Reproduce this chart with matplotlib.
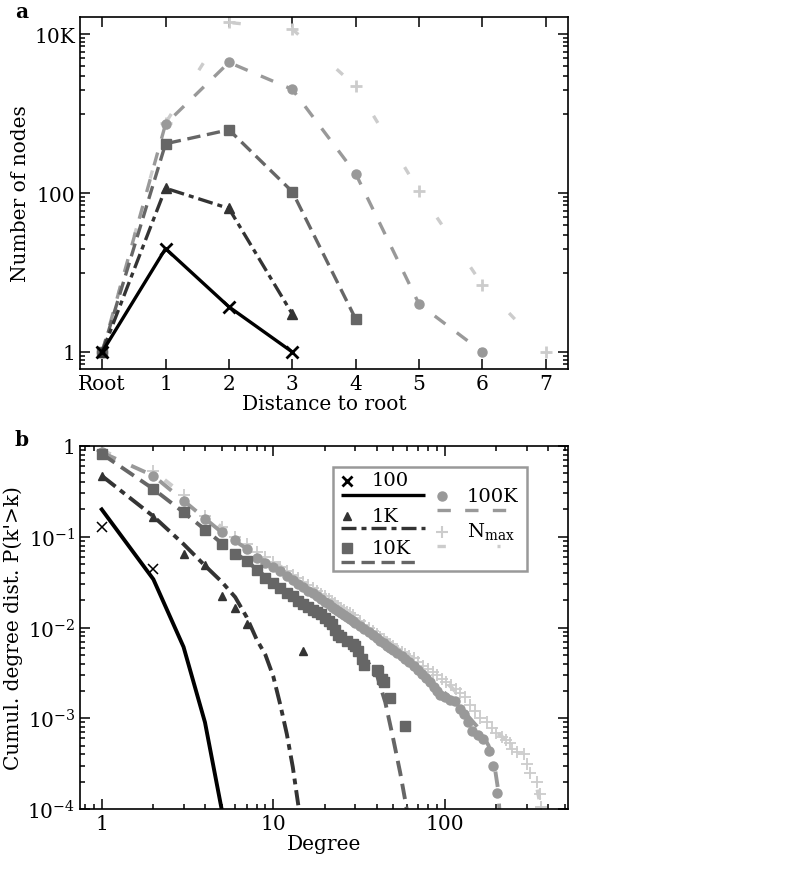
import numpy as np
import matplotlib
matplotlib.use("Agg")
import matplotlib.pyplot as plt
from matplotlib.ticker import FixedLocator, LogLocator, NullFormatter
from matplotlib.patches import Rectangle

plt.rcParams['font.family'] = ['DejaVu Serif']
plt.rcParams['mathtext.fontset'] = 'dejavuserif'

# ---------------- Panel a data ----------------
dist_labels = ["Root", "1", "2", "3", "4", "5", "6", "7"]
a_100 = [1, 20, 3.7, 1]
a_1k = [1, 115, 64, 3.0]
a_10k = [1, 417, 625, 104, 2.6]
a_100k = [1, 738, 4400, 2015, 175, 4.0, 1]
a_nmax = [1, 760, 14000, 11560, 2200, 106, 7.0, 1]

# ---------------- Panel b data ----------------
b_100_k = [1, 2]
b_100_p = [0.127, 0.044]
b_100_fit_k = [1, 2, 3, 4, 5]
b_100_fit_p = [0.2, 0.034, 0.0061, 0.0009, 0.0001]

b_1k_k = [1, 2, 3, 4, 5, 6, 7, 15]
b_1k_p = [0.47, 0.165, 0.064, 0.049, 0.022, 0.0166, 0.011, 0.0055]
b_1k_fit_k = [1, 2, 3, 4, 5, 6, 7, 8, 9, 10, 11, 12, 13, 14]
b_1k_fit_p = [0.47, 0.168, 0.083, 0.048, 0.032, 0.0216, 0.013, 0.0074, 0.005,
              0.0029, 0.0014, 0.00067, 0.00029, 0.00011]

b_10k_k = [1, 2, 3, 4, 5, 6, 7, 8, 9, 10, 11, 12, 13, 14, 15, 16, 17, 18, 19, 20,
           21, 22, 23, 24, 25, 27, 29, 30, 31, 33, 34, 40, 41, 43, 44, 48, 59]
b_10k_p = [0.82, 0.336, 0.186, 0.12, 0.083, 0.064, 0.054, 0.043, 0.035, 0.031,
           0.027, 0.024, 0.022, 0.0197, 0.018, 0.0167, 0.0157, 0.0148, 0.014, 0.0128,
           0.0118, 0.0109, 0.0095, 0.0083, 0.0078, 0.0071, 0.0066, 0.0063, 0.0055,
           0.0045, 0.0039, 0.0034, 0.0033, 0.0027, 0.0025, 0.00167, 0.00083]
b_10k_fit_k = [1, 2, 3, 4, 5, 7, 10, 15, 20, 25, 30, 35, 40, 45, 50, 55, 59, 60]
b_10k_fit_p = [0.82, 0.336, 0.186, 0.12, 0.085, 0.054, 0.031, 0.018, 0.0128, 0.0085,
               0.0063, 0.0043, 0.0031, 0.0015, 0.0006, 0.00025, 0.00012, 0.0001]

b_100k_k = [1, 2, 3, 4, 5, 6, 7, 8, 9, 10, 11, 12, 13, 14, 15, 16, 17, 18, 19, 20,
            21, 22, 23, 24, 25, 26, 27, 28, 29, 30, 32, 34, 36, 38, 40, 42, 44, 46,
            48, 50, 53, 56, 59, 62, 66, 70, 74, 78, 82, 86, 90, 94, 100, 108, 115,
            123, 130, 137, 144, 156, 168, 180, 192, 202]
b_100k_p = [0.85, 0.47, 0.25, 0.157, 0.112, 0.091, 0.074, 0.059, 0.052, 0.046,
            0.0415, 0.037, 0.0335, 0.0305, 0.028, 0.0255, 0.0238, 0.022, 0.0205, 0.0192,
            0.018, 0.017, 0.016, 0.0151, 0.0143, 0.0136, 0.013, 0.0123, 0.0118, 0.0113,
            0.0104, 0.0096, 0.0089, 0.0082, 0.0077, 0.0071, 0.0067, 0.0063, 0.006,
            0.0057, 0.0053, 0.0049, 0.0045, 0.0042, 0.0038, 0.0034, 0.0031, 0.0028,
            0.0025, 0.0022, 0.002, 0.0018, 0.0017, 0.0016, 0.00155, 0.00126, 0.0011,
            0.0009, 0.00073, 0.00065, 0.00059, 0.00044, 0.0003, 0.00015]
b_100k_fit_k = [1, 2, 3, 5, 7, 10, 15, 20, 30, 40, 60, 80, 100, 120, 140, 160, 180,
                195, 205, 208]
b_100k_fit_p = [0.85, 0.47, 0.25, 0.112, 0.074, 0.046, 0.028, 0.0192, 0.0113, 0.0077,
                0.0043, 0.0027, 0.0019, 0.0014, 0.001, 0.00075, 0.0005, 0.0003,
                0.00016, 0.0001]

b_nmax_k = [1, 2, 3, 4, 5, 6, 7, 8, 9, 10, 11, 12, 13, 14, 15, 16, 17, 18, 19, 20,
            21, 22, 23, 24, 25, 26, 27, 28, 29, 30, 32, 34, 36, 38, 40, 42, 44, 46,
            48, 50, 53, 56, 59, 62, 66, 70, 75, 80, 85, 90, 96, 102, 109, 116, 123,
            131, 140, 150, 160, 176, 188, 200, 215, 228, 240, 245, 265, 288, 300,
            312, 346, 360, 364]
b_nmax_p = [0.89, 0.53, 0.29, 0.17, 0.127, 0.10, 0.083, 0.068, 0.060, 0.053,
            0.047, 0.042, 0.038, 0.035, 0.032, 0.0295, 0.0272, 0.0253, 0.0236, 0.022,
            0.0207, 0.0195, 0.0184, 0.0174, 0.0165, 0.0157, 0.015, 0.0143, 0.0137,
            0.0128, 0.0117, 0.0107, 0.0099, 0.0091, 0.0085, 0.0079, 0.0074, 0.0069,
            0.0065, 0.0062, 0.0058, 0.0054, 0.0051, 0.0048, 0.0046, 0.0042, 0.0038,
            0.0035, 0.0032, 0.003, 0.0027, 0.0025, 0.0023, 0.0021, 0.0019, 0.0017,
            0.0014, 0.0012, 0.001, 0.0009, 0.00078, 0.00069, 0.00062, 0.00058,
            0.00054, 0.00046, 0.00042, 0.0004, 0.00031, 0.00025, 0.0002, 0.000145,
            0.000105]
b_nmax_fit_k = [1, 2, 3, 5, 7, 10, 15, 20, 30, 40, 60, 80, 100, 150, 200, 250, 300,
                340, 365]
b_nmax_fit_p = [0.89, 0.53, 0.29, 0.127, 0.083, 0.053, 0.032, 0.022, 0.0128, 0.0085,
                0.005, 0.0035, 0.0026, 0.0012, 0.0007, 0.0005, 0.0003, 0.0002, 0.0001]

legend_labels = ["100", "1K", "10K", "100K", "N$_{\\mathrm{max}}$"]

# ---------------- Styles ----------------
C100, C1K, C10K, C100K, CNMAX = "#000000", "#333333", "#666666", "#999999", "#cccccc"
DASH_1K = (4.5, 1.5, 1.5, 1.5)
DASH_10K = (4, 2)
DASH_100K = (4, 4.3)
DASH_NMAX = (2.5, 15.5)
FS = 14.5

fig = plt.figure(figsize=(7.97, 8.87), dpi=100)
W, H = 797, 887

def ax_rect(l, r, t, b):
    return [l / W, (H - b) / H, (r - l) / W, (b - t) / H]

axa = fig.add_axes(ax_rect(80, 568, 18, 370))
axb = fig.add_axes(ax_rect(80, 568, 447, 810))

for ax in (axa, axb):
    for sp in ax.spines.values():
        sp.set_linewidth(1.2)
    ax.tick_params(which='both', direction='in', top=True, right=True,
                   labelsize=FS, width=1.1)
    ax.tick_params(which='major', length=7)
    ax.tick_params(which='minor', length=3.5)

# ---------------- Panel a ----------------
LWA = 2.4
x = np.arange(len(dist_labels))
ln, = axa.plot(x[:len(a_nmax)], a_nmax, color=CNMAX, lw=LWA, marker='+', ms=9, mew=2)
ln.set_dashes(DASH_NMAX)
ln, = axa.plot(x[:len(a_100k)], a_100k, color=C100K, lw=LWA, marker='o', ms=6.5)
ln.set_dashes(DASH_100K)
ln, = axa.plot(x[:len(a_10k)], a_10k, color=C10K, lw=LWA, marker='s', ms=7.5)
ln.set_dashes(DASH_10K)
ln, = axa.plot(x[:len(a_1k)], a_1k, color=C1K, lw=LWA, marker='^', ms=7)
ln.set_dashes(DASH_1K)
axa.plot(x[:len(a_100)], a_100, color=C100, lw=LWA, marker='x', ms=8, mew=2)

axa.set_yscale('log')
axa.set_ylim(0.611, 16400)
axa.set_xlim(-0.35, 7.35)
axa.set_xticks(x)
axa.set_xticklabels(dist_labels)
axa.yaxis.set_major_locator(FixedLocator([1, 100, 10000]))
axa.set_yticklabels(["1", "100", "10K"])
minor_a = [0.7, 0.8, 0.9] + [10 * i for i in range(1, 10)] + [1000 * i for i in range(1, 10)]
axa.yaxis.set_minor_locator(FixedLocator(minor_a))
axa.yaxis.set_minor_formatter(NullFormatter())
axa.set_xlabel("Distance to root", fontsize=FS, labelpad=1)
axa.set_ylabel("Number of nodes", fontsize=FS, labelpad=3)

# ---------------- Panel b ----------------
LWB = 2.8
axb.plot(b_nmax_k, b_nmax_p, linestyle='none', marker='+', ms=8, mew=1.3, color=CNMAX)
ln, = axb.plot(b_nmax_fit_k, b_nmax_fit_p, color=CNMAX, lw=LWB)
ln.set_dashes(DASH_NMAX)
axb.plot(b_100k_k, b_100k_p, linestyle='none', marker='o', ms=6.5, color=C100K)
ln, = axb.plot(b_100k_fit_k, b_100k_fit_p, color=C100K, lw=LWB)
ln.set_dashes(DASH_100K)
axb.plot(b_10k_k, b_10k_p, linestyle='none', marker='s', ms=7, color=C10K)
ln, = axb.plot(b_10k_fit_k, b_10k_fit_p, color=C10K, lw=LWB)
ln.set_dashes(DASH_10K)
axb.plot(b_1k_k, b_1k_p, linestyle='none', marker='^', ms=6, color=C1K)
ln, = axb.plot(b_1k_fit_k, b_1k_fit_p, color=C1K, lw=LWB)
ln.set_dashes(DASH_1K)
axb.plot(b_100_k, b_100_p, linestyle='none', marker='x', ms=7, mew=1.1, color=C100)
axb.plot(b_100_fit_k, b_100_fit_p, color=C100, lw=LWB)

axb.set_xscale('log')
axb.set_yscale('log')
axb.set_xlim(0.747, 523)
axb.set_ylim(1e-4, 1)
axb.xaxis.set_major_locator(FixedLocator([1, 10, 100]))
axb.set_xticklabels(["1", "10", "100"])
axb.xaxis.set_minor_locator(LogLocator(base=10, subs=np.arange(2, 10)))
axb.xaxis.set_minor_formatter(NullFormatter())
axb.yaxis.set_major_locator(FixedLocator([1e-4, 1e-3, 1e-2, 1e-1, 1]))
axb.set_yticklabels(["10$^{-4}$", "10$^{-3}$", "10$^{-2}$", "10$^{-1}$", "1"])
axb.yaxis.set_minor_locator(LogLocator(base=10, subs=np.arange(2, 10)))
axb.yaxis.set_minor_formatter(NullFormatter())
axb.set_xlabel("Degree", fontsize=FS, labelpad=1)
axb.set_ylabel("Cumul. degree dist. P(k'>k)", fontsize=FS, labelpad=3)

# ---------------- custom legend ----------------
def fx(px):
    return (px - 80) / 488.0

def fy(py):
    return (810 - py) / 363.0

T = axb.transAxes
axb.add_patch(Rectangle((fx(333), fy(572)), fx(527) - fx(333), fy(468) - fy(572),
                        transform=T, facecolor='white', edgecolor='#999999',
                        lw=1.8, zorder=10))
entries = [
    ((346.7, 481.7), 'x', 7, 2.0, C100, (371.7, 481), 496, (341, 425), None, legend_labels[0]),
    ((346.7, 517.3), '^', 6, 1.0, C1K, (371.7, 517), 529, (341, 425), DASH_1K, legend_labels[1]),
    ((346.7, 549.0), 's', 7, 1.0, C10K, (371.7, 549), 563, (341, 419), DASH_10K, legend_labels[2]),
    ((441.7, 496.7), 'o', 6.5, 1.0, C100K, (466.7, 497), 510.7, (436.7, 520), DASH_100K, legend_labels[3]),
    ((441.7, 532.7), '+', 9, 1.5, CNMAX, (466.7, 532), 547, (436.7, 500), DASH_NMAX, legend_labels[4]),
]
for (mx, my), mk, ms, mew, col, (tx, ty), ly, (lx0, lx1), dsh, lab in entries:
    axb.plot([fx(mx)], [fy(my)], transform=T, marker=mk, ms=ms, mew=mew,
             color=col, linestyle='none', zorder=11, clip_on=False)
    ln, = axb.plot([fx(lx0), fx(lx1)], [fy(ly), fy(ly)], transform=T, color=col,
                   lw=2.4, zorder=11, clip_on=False, solid_capstyle='butt')
    if dsh is not None:
        ln.set_dashes(dsh)
        ln.set_dash_capstyle('butt')
    axb.text(fx(tx), fy(ty), lab, transform=T, fontsize=14, ha='left',
             va='center', zorder=12)

# panel labels
fig.text(15 / W, 1 - 12 / H, "a", fontsize=FS, fontweight='bold', ha='left', va='center')
fig.text(15 / W, 1 - 440 / H, "b", fontsize=FS, fontweight='bold', ha='left', va='center')

fig.savefig("out.png", dpi=100)
